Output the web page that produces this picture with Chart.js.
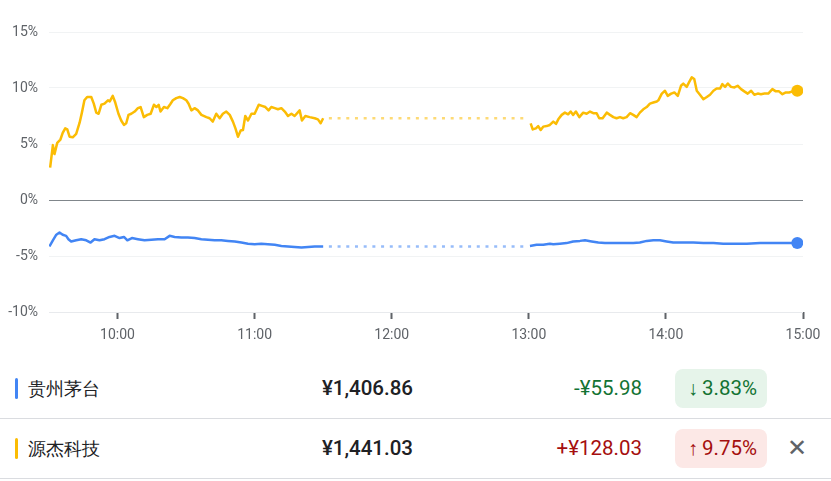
<!DOCTYPE html>
<html>
<head>
<meta charset="utf-8">
<script src="https://cdn.jsdelivr.net/npm/chart.js@4.4.0/dist/chart.umd.min.js"></script>
<style>
  body { margin:0; width:831px; height:481px; overflow:hidden; background:#fff; font-family: Roboto, Arial, sans-serif; }
  #chartBox { position:relative; width:831px; height:359px; }
  .row { position:relative; width:831px; height:59px; border-bottom:1px solid #dadce0; }
  .row div { position:absolute; top:0; height:59px; line-height:59px; font-size:20.5px; white-space:nowrap; }
  .bar { left:15px !important; top:19px !important; width:3px; height:21px !important; border-radius:2px; }
  .row .name { left:28px; color:#202124; font-size:18px; }
  .price { left:0; width:413px; text-align:right; color:#202124; font-weight:500; }
  .chg { left:0; width:642px; text-align:right; }
  .badge { top:10px !important; height:39px !important; line-height:39px !important; right:64px; padding:0 10px 0 13px; border-radius:8px; }
  .badge b { font-weight:400; font-size:20px; margin-right:4px; }
  .row .close { left:787px; color:#5f6368; font-size:24px; }
</style>
</head>
<body>
<div id="chartBox"><canvas id="chart_1"></canvas></div>
<div id="rows"></div>
<script>
// minutes after 9:30 open, values in % change
const ylwAmT = [0.5,1.7,2.4,3.6,5.0,6.0,7.1,8.0,9.0,10.4,11.9,13.4,14.4,15.5,16.7,18.5,19.6,20.7,21.7,22.9,24.3,25.8,26.6,27.9,29.0,30.4,31.6,32.8,33.8,34.8,36.0,37.5,38.9,40.1,41.5,43.0,44.5,45.9,47.0,48.0,48.8,50.3,51.8,53.2,54.2,55.7,57.2,58.6,60.1,61.1,62.3,63.7,65.2,66.7,68.9,70.3,71.7,73.2,74.7,76.1,77.6,79.1,80.5,81.6,82.7,83.9,84.9,85.9,87.1,88.6,90.0,91.8,93.2,94.7,96.1,97.3,98.8,100.2,101.7,103.2,104.6,106.1,107.5,109.7,110.7,112.2,114.1,116.3,117.7,118.9,120];
const ylwAmV = [2.9,4.9,4.1,5.1,5.4,6.0,6.4,6.3,5.65,5.6,5.9,6.9,7.8,8.9,9.2,9.2,8.6,7.8,7.7,8.5,8.6,8.9,8.8,9.3,8.7,7.7,7.1,6.7,6.85,7.6,7.7,7.9,8.2,8.3,7.4,7.6,7.7,8.5,8.3,8.5,7.9,8.3,8.2,8.6,8.9,9.1,9.2,9.1,8.9,8.6,8.0,8.2,8.0,7.6,7.4,7.3,7.0,7.7,7.3,7.7,7.9,7.6,7.0,6.4,5.65,6.2,6.25,7.5,7.1,7.7,7.7,8.5,8.4,8.3,8.0,8.3,8.2,8.1,8.2,7.9,7.5,7.7,7.5,8.0,7.1,7.5,7.4,7.3,7.2,6.85,7.3];
const ylwPmT = [210.8,211.7,213.1,214.1,215.2,216.3,217.8,219.2,220.7,221.9,222.9,224.4,225.8,227.2,228.3,229.4,230.6,232.1,233.8,235.3,236.8,238.2,239.7,240.8,242.3,244.1,245.5,247.0,248.4,249.9,251.3,252.8,254.3,255.7,257.2,258.6,260.1,261.6,263.0,264.5,266.0,266.7,268.2,269.6,270.8,272.3,273.7,275.2,276.6,277.6,279.1,280.1,281.3,282.4,283.5,284.9,286.4,287.9,289.3,290.8,292.2,293.7,294.7,295.9,297.1,298.5,300.0,301.4,302.9,304.3,305.8,307.3,308.7,310.2,311.6,313.1,314.8,316.6,318.1,319.5,321.0,322.5,323.9,325.4,327.5];
const ylwPmV = [6.85,6.3,6.4,6.6,6.25,6.55,6.6,6.7,7.0,6.8,7.2,7.6,7.8,7.65,7.9,7.6,7.9,7.4,7.8,7.7,7.9,7.75,7.75,7.3,7.3,7.8,7.6,7.4,7.3,7.4,7.3,7.4,7.75,7.6,7.4,7.8,8.1,8.3,8.6,8.7,8.8,8.9,9.5,9.75,9.3,9.5,9.6,9.3,10.2,10.4,10.1,10.5,10.95,10.8,9.75,9.4,9.0,9.2,9.4,9.75,9.95,9.95,10.35,10.1,10.4,10.1,10.05,10.2,9.9,9.7,9.5,9.75,9.4,9.5,9.45,9.5,9.5,9.9,9.7,9.7,9.45,9.6,9.6,9.7,9.75];

const bluAmT = [0.2,1.7,3.2,4.6,6.0,7.5,8.5,9.7,11.9,14.1,16.3,18.2,19.9,22.1,24.3,26.5,28.7,30.9,32.8,34.3,36.3,38.9,41.8,44.8,47.7,50.6,52.8,55.0,57.9,60.8,63.7,66.7,69.6,72.5,75.4,78.3,81.3,84.2,87.1,90.0,92.9,95.8,98.8,101.7,104.6,107.5,110.5,113.4,116.3,119.2,120];
const bluAmV = [-4.15,-3.6,-3.1,-2.9,-3.1,-3.2,-3.5,-3.7,-3.6,-3.5,-3.6,-3.8,-3.5,-3.6,-3.5,-3.3,-3.2,-3.4,-3.3,-3.6,-3.4,-3.5,-3.6,-3.55,-3.5,-3.5,-3.2,-3.3,-3.35,-3.35,-3.4,-3.5,-3.55,-3.6,-3.6,-3.65,-3.7,-3.8,-3.9,-3.95,-3.9,-3.95,-4.0,-4.1,-4.15,-4.2,-4.25,-4.2,-4.15,-4.15,-4.15];
const bluPmT = [210.5,213.4,216.3,219.2,220.7,223.6,226.5,229.4,232.4,234.6,237.5,240.4,243.3,247.0,249.9,252.8,255.7,258.6,261.6,264.5,267.4,270.3,273.2,277.6,282.0,286.4,290.8,295.1,299.5,305.4,311.2,317.0,322.9,327.5];
const bluPmV = [-4.1,-4.0,-4.0,-3.9,-3.95,-3.9,-3.85,-3.7,-3.65,-3.6,-3.7,-3.8,-3.85,-3.85,-3.85,-3.85,-3.85,-3.8,-3.65,-3.6,-3.6,-3.7,-3.8,-3.8,-3.8,-3.85,-3.85,-3.9,-3.9,-3.9,-3.85,-3.85,-3.85,-3.83];

const lunchStart = 120, lunchEnd = 208.5;
const tickTimes = [30, 90, 150, 210, 270, 330];
const tickLabels = ['10:00', '11:00', '12:00', '13:00', '14:00', '15:00'];
const yTicks = [-10, -5, 0, 5, 10, 15];

// table below the chart
const names = ['贵州茅台', '源杰科技'];
const prices = ['¥1,406.86', '¥1,441.03'];
const changes = ['-¥55.98', '+¥128.03'];
const pcts = ['3.83%', '9.75%'];
const isUp = [false, true];

const YELLOW = '#fbbc04', BLUE = '#4285f4';

function pts(t, v){
    return t.map((x, i) => ({x: x, y: v[i]}));
}

function lunch(v){
    let last = v[v.length - 1];
    return [{x: lunchStart, y: last}, {x: lunchEnd, y: last}];
}

function solid(data, color, dot){
    return {
        data: data,
        borderColor: color,
        backgroundColor: color,
        borderWidth: 2.5,
        borderJoinStyle: 'round',
        pointRadius: ctx => (dot && ctx.dataIndex === data.length - 1) ? 6 : 0,
        pointBorderWidth: 0,
        tension: 0
    };
}

function dotted(data, color){
    return {
        data: data,
        borderColor: color,
        borderWidth: 2.5,
        borderDash: [3, 5.7],
        borderDashOffset: 3,
        pointRadius: 0
    };
}

Chart.defaults.font.family = 'Roboto, Arial, sans-serif';
Chart.defaults.font.size = 14;
Chart.defaults.color = '#5f6368';

let chart = new Chart('chart_1', {
    type: 'line',
    data: {
        datasets: [
            solid(pts(bluAmT, bluAmV), BLUE, false),
            dotted(lunch(bluAmV), 'rgba(66,133,244,0.55)'),
            solid(pts(bluPmT, bluPmV), BLUE, true),
            solid(pts(ylwAmT, ylwAmV), YELLOW, false),
            dotted(lunch(ylwAmV), 'rgba(251,188,4,0.55)'),
            solid(pts(ylwPmT, ylwPmV), YELLOW, true)
        ]
    },
    options: {
        responsive: true,
        maintainAspectRatio: false,
        animation: false,
        layout: { padding: { top: 32, right: 28, left: 0, bottom: 0 } },
        plugins: { legend: { display: false }, tooltip: { enabled: false } },
        scales: {
            x: {
                type: 'linear',
                min: 0,
                max: 330,
                afterBuildTicks: s => { s.ticks = tickTimes.map(v => ({value: v})); },
                afterFit: s => { s.height = 359 - 312; },
                ticks: {
                    autoSkip: false,
                    maxRotation: 0,
                    padding: 8,
                    callback: v => tickLabels[tickTimes.indexOf(v)]
                },
                grid: { drawOnChartArea: false, tickLength: 7, tickColor: '#5f6368', tickWidth: 2 },
                border: { display: false }
            },
            y: {
                min: -10,
                max: 15,
                afterBuildTicks: s => { s.ticks = yTicks.map(v => ({value: v})); },
                afterFit: s => { s.width = 49; },
                ticks: { padding: 11, callback: v => v + '%' },
                grid: {
                    drawTicks: false,
                    color: c => c.tick.value === 0 ? '#80868b' : (c.tick.value === -10 ? '#e8eaed' : '#f1f3f4')
                },
                border: { display: false }
            }
        }
    }
});

// build the rows under the chart
let html = '';
names.forEach((n, i) => {
    let col = isUp[i] ? '#a50e0e' : '#137333';
    let bg = isUp[i] ? '#fce8e6' : '#e6f4ea';
    let arrow = isUp[i] ? '↑' : '↓';
    html += '<div class="row">'
        + '<div class="bar" style="background:' + (i === 0 ? BLUE : YELLOW) + '"></div>'
        + '<div class="name">' + n + '</div>'
        + '<div class="price">' + prices[i] + '</div>'
        + '<div class="chg" style="color:' + col + '">' + changes[i] + '</div>'
        + '<div class="badge" style="color:' + col + ';background:' + bg + '"><b>' + arrow + '</b>' + pcts[i] + '</div>'
        + (i === 1 ? '<div class="close">✕</div>' : '')
        + '</div>';
});
document.getElementById('rows').innerHTML = html;
</script>
</body>
</html>
